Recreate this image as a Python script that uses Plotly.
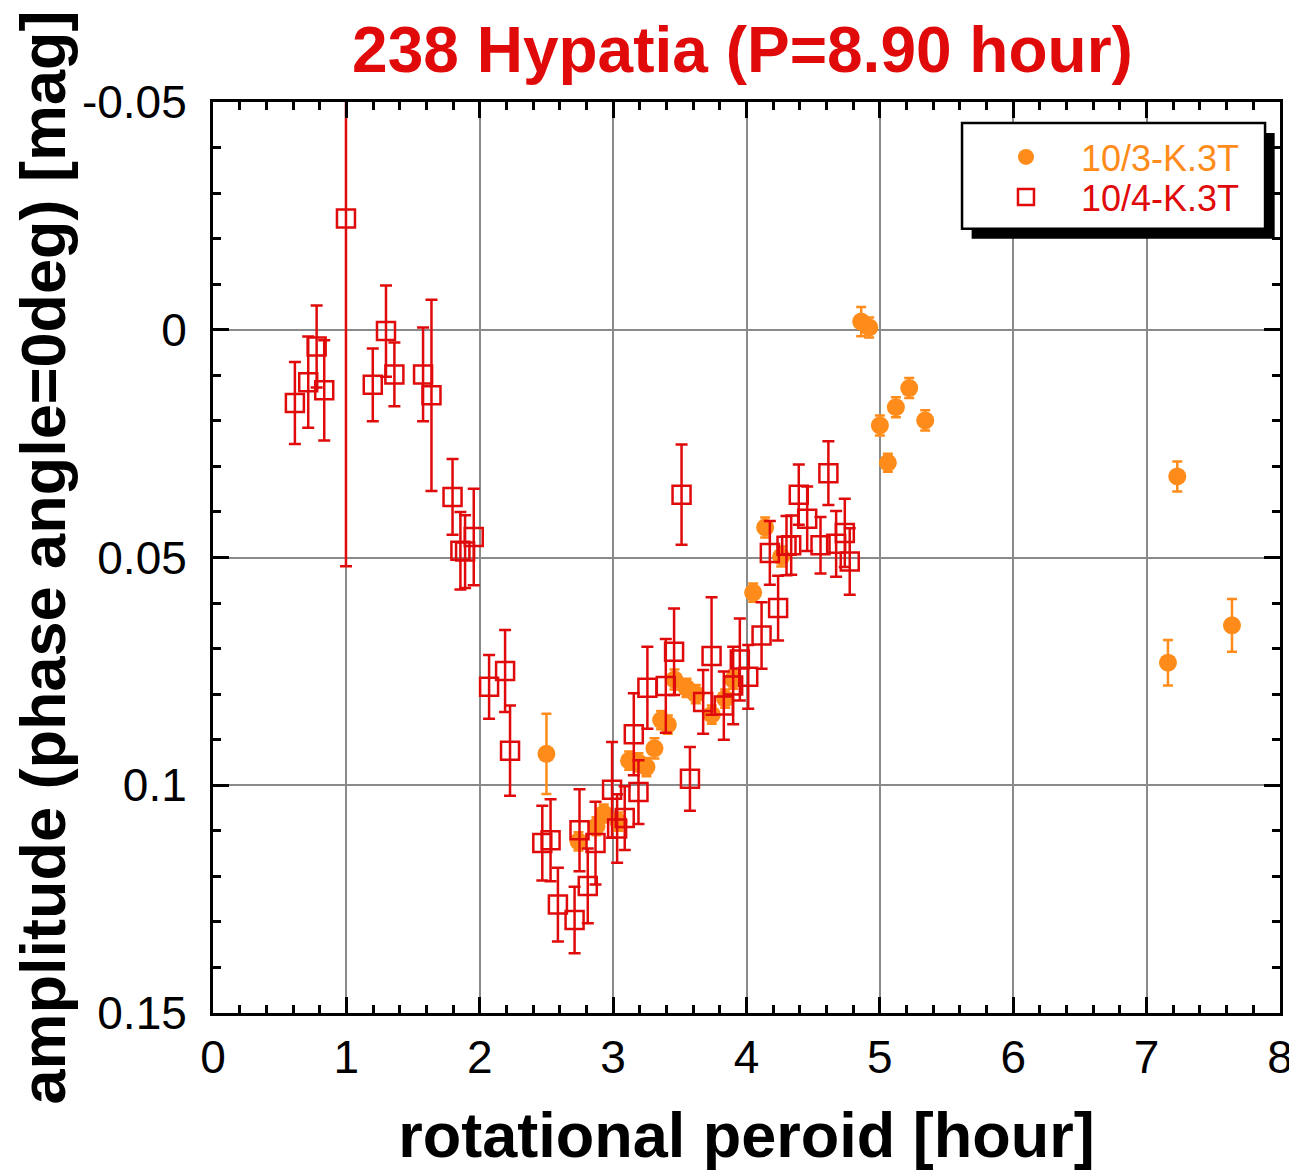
import plotly.graph_objects as go

# 10/3-K.3T (filled orange circles)
p_0310 = [2.50, 2.74, 2.875, 2.93, 3.04, 3.12, 3.19, 3.25, 3.31, 3.36, 3.41, 3.46,
          3.55, 3.62, 3.74, 3.84, 3.90, 4.05, 4.14, 4.26,
          4.86, 4.92, 5.00, 5.06, 5.12, 5.22, 5.34, 7.16, 7.23, 7.64]
amp_0310 = [0.0931, 0.1123, 0.1090, 0.1062, 0.1080, 0.0946, 0.0950, 0.0960, 0.0919, 0.0857, 0.0867, 0.0768,
            0.0786, 0.0800, 0.0845, 0.0810, 0.0768, 0.0577, 0.0434, 0.0498,
            -0.0018, -0.0005, 0.0210, 0.0292, 0.0170, 0.0128, 0.0199, 0.0731, 0.0322, 0.0649]
err_0310 = [0.0088, 0.0020, 0.0020, 0.0020, 0.0020, 0.0020, 0.0020, 0.0020, 0.0022, 0.0020, 0.0020, 0.0022,
            0.0020, 0.0020, 0.0020, 0.0020, 0.0020, 0.0020, 0.0022, 0.0022,
            0.0032, 0.0022, 0.0022, 0.0020, 0.0022, 0.0022, 0.0022, 0.0050, 0.0033, 0.0058]

# 10/4-K.3T (open red squares)
p_0410 = [0.614, 0.714, 0.777, 0.834, 0.997, 1.198, 1.297, 1.36, 1.575, 1.638,
          1.796, 1.855, 1.89, 1.955, 2.07, 2.19, 2.227, 2.469, 2.531, 2.586,
          2.711, 2.748, 2.81, 2.868, 2.992, 3.03, 3.087, 3.19, 3.155, 3.257,
          3.395, 3.457, 3.513, 3.576, 3.675, 3.738, 3.83, 3.90, 3.95, 4.013,
          4.113, 4.237, 4.175, 4.30, 4.335, 4.392, 4.455, 4.555, 4.614, 4.672,
          4.737, 4.774]
amp_0410 = [0.0161, 0.0115, 0.0037, 0.0133, -0.0244, 0.0121, 0.0003, 0.0098, 0.0098, 0.0144,
            0.0367, 0.0485, 0.0487, 0.0455, 0.0784, 0.0749, 0.0924, 0.1127, 0.1121, 0.1262,
            0.1296, 0.1099, 0.1221, 0.1127, 0.1010, 0.1095, 0.1072, 0.1015, 0.0888, 0.0786,
            0.0782, 0.0707, 0.0362, 0.0986, 0.0817, 0.0716, 0.0825, 0.0781, 0.0724, 0.0762,
            0.0671, 0.0611, 0.0490, 0.0474, 0.0473, 0.0362, 0.0415, 0.0473, 0.0315, 0.0470,
            0.0446, 0.0509]
err_0410 = [0.0090, 0.0100, 0.0090, 0.0110, 0.0763, 0.0080, 0.0100, 0.0070, 0.0103, 0.0210,
            0.0083, 0.0085, 0.0080, 0.0106, 0.0070, 0.0090, 0.0099, 0.0082, 0.0090, 0.0081,
            0.0073, 0.0090, 0.0082, 0.0091, 0.0105, 0.0075, 0.0070, 0.0070, 0.0090, 0.0090,
            0.0103, 0.0095, 0.0110, 0.0070, 0.0070, 0.0129, 0.0075, 0.0085, 0.0090, 0.0070,
            0.0073, 0.0071, 0.0070, 0.0065, 0.0065, 0.0066, 0.0071, 0.0062, 0.0070, 0.0072,
            0.0075, 0.0073]

x_ticks = [0, 1, 2, 3, 4, 5, 6, 7, 8]
y_ticks = [-0.05, 0, 0.05, 0.1, 0.15]
y_ticktext = ['-0.05', '0', '0.05', '0.1', '0.15']

ORANGE = '#FF8C1A'
RED = '#E00A0A'
FONT = 'Liberation Sans, Arial, sans-serif'
NB = '\u00a0' * 3  # gap between legend symbol and label

fig = go.Figure()

fig.add_trace(go.Scatter(
    x=p_0310, y=amp_0310, mode='markers',
    name=f'{NB}<span style="color:{ORANGE}">10/3-K.3T</span>',
    marker=dict(symbol='circle', size=18, color=ORANGE),
    error_y=dict(type='data', array=err_0310, color=ORANGE, thickness=2.5, width=5),
    legend='legend',
))

fig.add_trace(go.Scatter(
    x=p_0410, y=amp_0410, mode='markers',
    name=f'{NB}<span style="color:{RED}">10/4-K.3T</span>',
    marker=dict(symbol='square-open', size=18, color=RED, line=dict(width=2.5, color=RED)),
    error_y=dict(type='data', array=err_0410, color=RED, thickness=2.5, width=6),
    legend='legend2',
))

axis_common = dict(
    showline=True, linecolor='black', linewidth=3, mirror='allticks',
    ticks='inside', ticklen=16, tickwidth=2.5, tickcolor='black',
    showgrid=True, gridcolor='#8a8a8a', gridwidth=2,
    zeroline=False, automargin=False,
    tickfont=dict(family=FONT, size=46, color='black'),
    title_font=dict(family=FONT, size=63, color='black'),
)

fig.update_xaxes(
    range=[0, 8], tickmode='array', tickvals=x_ticks,
    minor=dict(tick0=0, dtick=0.2, ticks='inside', ticklen=8, tickwidth=2.5, tickcolor='black', showgrid=False),
    title=dict(text='<b>rotational peroid [hour]</b>', standoff=31),
    ticklabelstandoff=2,
    **axis_common,
)
fig.update_yaxes(
    range=[0.15, -0.05], tickmode='array', tickvals=y_ticks, ticktext=y_ticktext,
    minor=dict(tick0=0, dtick=0.01, ticks='inside', ticklen=8, tickwidth=2.5, tickcolor='black', showgrid=False),
    title=dict(text='<b>amplitude (phase angle=0deg) [mag]</b>', standoff=0),
    ticklabelstandoff=14,
    **axis_common,
)

# legend frame with drop shadow
fig.add_shape(type='rect', xref='paper', yref='paper', x0=0.711, x1=0.995, y0=0.850, y1=0.966,
              fillcolor='black', line=dict(width=0), layer='above')
fig.add_shape(type='rect', xref='paper', yref='paper', x0=0.702, x1=0.986, y0=0.861, y1=0.977,
              fillcolor='white', line=dict(width=2.5, color='black'), layer='above')

legend_common = dict(xanchor='left', yanchor='middle', bgcolor='rgba(0,0,0,0)', borderwidth=0,
                     font=dict(family=FONT, size=36), itemwidth=40)

# the page body adds an 8px margin, so the figure is 8px smaller than the window
fig.update_layout(
    width=1289, height=1168,
    margin=dict(l=205, r=17, t=94, b=163),
    plot_bgcolor='white', paper_bgcolor='white',
    title=dict(text='<b>238 Hypatia (P=8.90 hour)</b>', x=0.5698, xanchor='center',
               y=0.964, yanchor='middle', font=dict(family=FONT, size=64, color=RED)),
    showlegend=True,
    legend=dict(x=0.7385, y=(1013 - 157) / 911, **legend_common),
    legend2=dict(x=0.7385, y=(1013 - 197) / 911, **legend_common),
    font=dict(family=FONT),
)

fig.write_html('out.html')
